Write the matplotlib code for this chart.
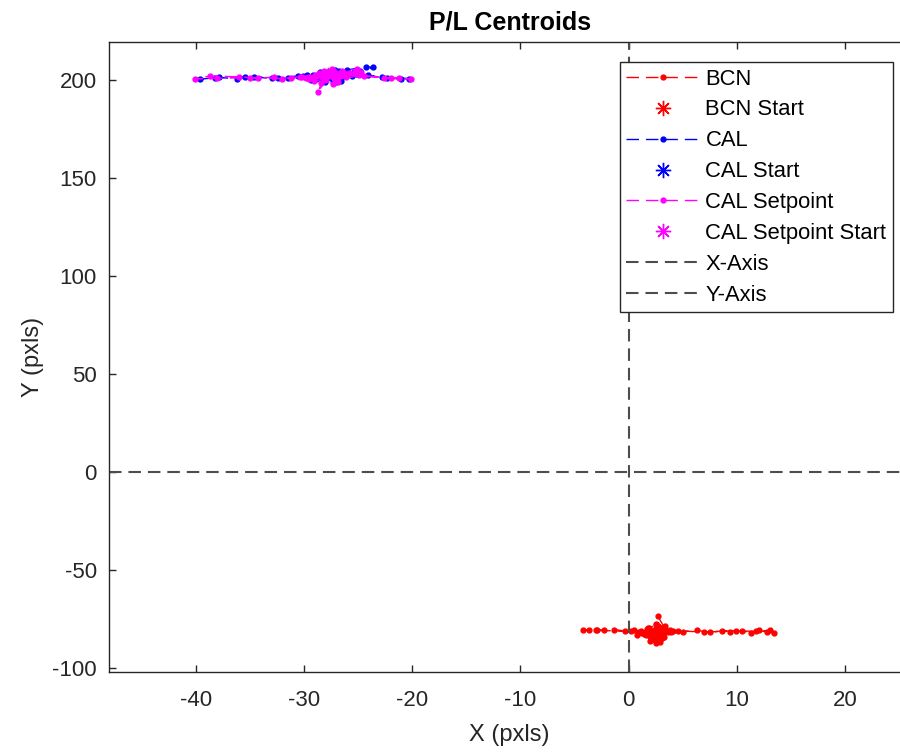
"""P/L centroids plot"""

import matplotlib.pyplot as plt

plt.rcParams['font.family'] = ['Liberation Sans', 'DejaVu Sans']
plt.rcParams['axes.unicode_minus'] = False
plt.rcParams['lines.scale_dashes'] = False

# --- BCN centroid track
bcn_x = [2.3, 2.6, 1.9, 3.1, 2.8, 2.0, 1.5, 3.4, 2.7, 2.2, 1.2, 0.8, 2.5, 3.0,
         3.8, 2.9, 2.4, 1.7, 2.1, 3.3, 2.6, 2.8, 2.7, 3.5, 1.4, 0.5, -0.3, -1.4,
         1.0, 2.2, 4.1, 5.0, 6.3, 7.5, 8.6, 9.4, 10.5, 11.3, 12.0, 12.8, 13.4,
         13.1, 11.8, 9.9, 7.0, 4.6, 3.2, 2.4, 1.8, 2.9, 3.6, 2.5, 2.0, 1.1,
         -2.3, -3.0, -3.7, -4.2, -2.9, 0.2, 2.6, 3.1, 2.3, 1.9, 2.8, 3.4, 2.1,
         2.7, 1.6, 3.9, 2.4, 0.9, 3.2, 2.0]
bcn_y = [-81.0, -83.5, -79.2, -84.6, -80.1, -86.2, -82.0, -78.5, -85.0, -80.8,
         -81.9, -83.2, -77.6, -82.7, -80.3, -86.8, -84.1, -79.9, -81.5, -83.8,
         -80.6, -78.9, -73.4, -81.2, -82.4, -80.7, -80.9, -80.4, -81.6, -84.9,
         -80.8, -81.4, -80.6, -81.7, -80.9, -81.3, -81.0, -81.8, -80.7, -81.5,
         -81.9, -80.6, -81.2, -80.8, -81.5, -80.9, -82.3, -85.6, -79.4, -83.0,
         -81.7, -87.1, -80.2, -81.1, -80.5, -80.4, -80.6, -80.3, -80.7, -81.0,
         -82.8, -79.6, -84.3, -81.4, -85.8, -80.0, -83.6, -78.2, -82.9, -81.3,
         -80.5, -81.9, -84.0, -82.5]

# --- CAL centroid track
cal_x = [-27.5, -28.3, -26.9, -29.4, -27.8, -26.2, -25.4, -28.9, -30.1, -27.1,
         -26.6, -24.8, -25.9, -28.1, -29.7, -27.4, -26.0, -24.3, -23.6, -25.2,
         -27.9, -31.5, -33.0, -34.6, -36.2, -37.9, -39.6, -38.2, -35.5, -32.4,
         -30.6, -28.7, -26.4, -24.1, -22.3, -21.0, -20.3, -22.8, -25.0, -27.3,
         -28.5, -26.8, -25.6, -29.2, -27.0, -26.1, -28.0, -27.7]
cal_y = [202.0, 203.1, 201.2, 199.8, 204.0, 202.6, 203.8, 200.5, 201.7, 205.0,
         199.3, 204.6, 202.9, 198.7, 202.2, 203.5, 204.9, 206.5, 206.2, 203.0,
         201.4, 201.0, 200.6, 201.3, 200.4, 201.1, 200.2, 200.8, 201.5, 200.9,
         201.8, 202.4, 203.2, 202.1, 200.7, 200.3, 200.5, 201.2, 202.7, 199.6,
         203.6, 204.3, 201.9, 202.5, 198.5, 203.9, 200.1, 202.8]

# --- CAL setpoint track
sp_x = [-27.8, -28.6, -27.0, -29.1, -28.2, -26.7, -25.8, -29.5, -30.2, -27.4,
        -26.9, -25.3, -26.3, -28.4, -28.7, -27.6, -26.5, -25.1, -24.7, -26.0,
        -28.0, -31.2, -32.8, -34.3, -36.0, -38.7, -40.1, -38.0, -35.0, -32.0,
        -30.4, -28.9, -26.8, -24.5, -22.6, -21.2, -20.1, -22.0, -24.9, -27.1,
        -28.3, -27.2, -26.1, -29.0, -27.3, -26.4, -28.1, -27.9, -29.8, -27.5]
sp_y = [202.3, 203.5, 200.9, 199.4, 204.2, 202.0, 203.4, 200.1, 201.3, 205.4,
        199.0, 204.1, 202.5, 198.2, 193.7, 203.0, 204.5, 205.2, 204.0, 202.6,
        201.0, 200.7, 201.2, 200.8, 201.4, 201.8, 200.4, 200.6, 201.0, 200.5,
        201.5, 202.0, 202.8, 201.7, 200.9, 200.6, 200.4, 200.8, 202.2, 199.2,
        203.2, 204.6, 201.5, 202.1, 197.8, 203.6, 199.7, 202.4, 200.6, 203.8]

STAR = (8, 2, 0)
DASH = (9, 5)
KW = dict(linestyle='--', dashes=DASH, linewidth=1.0, marker='.', markersize=7)

fig = plt.figure(figsize=(9, 7.52), dpi=100)
ax = fig.add_axes([0.1214, 0.106, 0.8897, 0.8378])

ax.plot(bcn_x, bcn_y, color='red', label='BCN', **KW)
ax.plot(bcn_x[0], bcn_y[0], linestyle='none', marker=STAR, markersize=11,
        color='red', label='BCN Start')
ax.plot(cal_x, cal_y, color='blue', label='CAL', **KW)
ax.plot(cal_x[0], cal_y[0], linestyle='none', marker=STAR, markersize=11,
        color='blue', label='CAL Start')
ax.plot(sp_x, sp_y, color='magenta', label='CAL Setpoint', **KW)
ax.plot(sp_x[0], sp_y[0], linestyle='none', marker=STAR, markersize=11,
        color='magenta', label='CAL Setpoint Start')

XLIM = (-48, 26)
YLIM = (-102, 219)
ax.plot(XLIM, [0, 0], '--', dashes=DASH, color='0.3', linewidth=1.5,
        label='X-Axis')
ax.plot([0, 0], YLIM, '--', dashes=DASH, color='0.3', linewidth=1.5,
        label='Y-Axis')

ax.set_xlim(XLIM)
ax.set_ylim(YLIM)
ax.set_xticks([-40, -30, -20, -10, 0, 10, 20])
ax.set_yticks([-100, -50, 0, 50, 100, 150, 200])
ax.tick_params(direction='in', top=True, right=True, length=5, width=1,
               labelsize=16, colors='0.15')
ax.tick_params(axis='x', pad=13)
ax.tick_params(axis='y', pad=9)
for s in ax.spines.values():
    s.set_color('0.15')
    s.set_linewidth(1.0)

ax.set_title('P/L Centroids', fontsize=18, fontweight='bold', pad=9)
ax.set_xlabel('X (pxls)', fontsize=17, color='0.15', labelpad=9)
ax.set_ylabel('Y (pxls)', fontsize=17, color='0.15', labelpad=6)

leg = ax.legend(loc='upper right', bbox_to_anchor=(893 / 900, 1 - 62 / 752),
                bbox_transform=fig.transFigure, fontsize=15.8, frameon=True,
                fancybox=False, framealpha=1, edgecolor='0.15',
                handlelength=3.3, handletextpad=0.3, labelspacing=0.45,
                borderpad=0.3, borderaxespad=0)
leg.get_frame().set_linewidth(1.0)

plt.savefig('out.png')
